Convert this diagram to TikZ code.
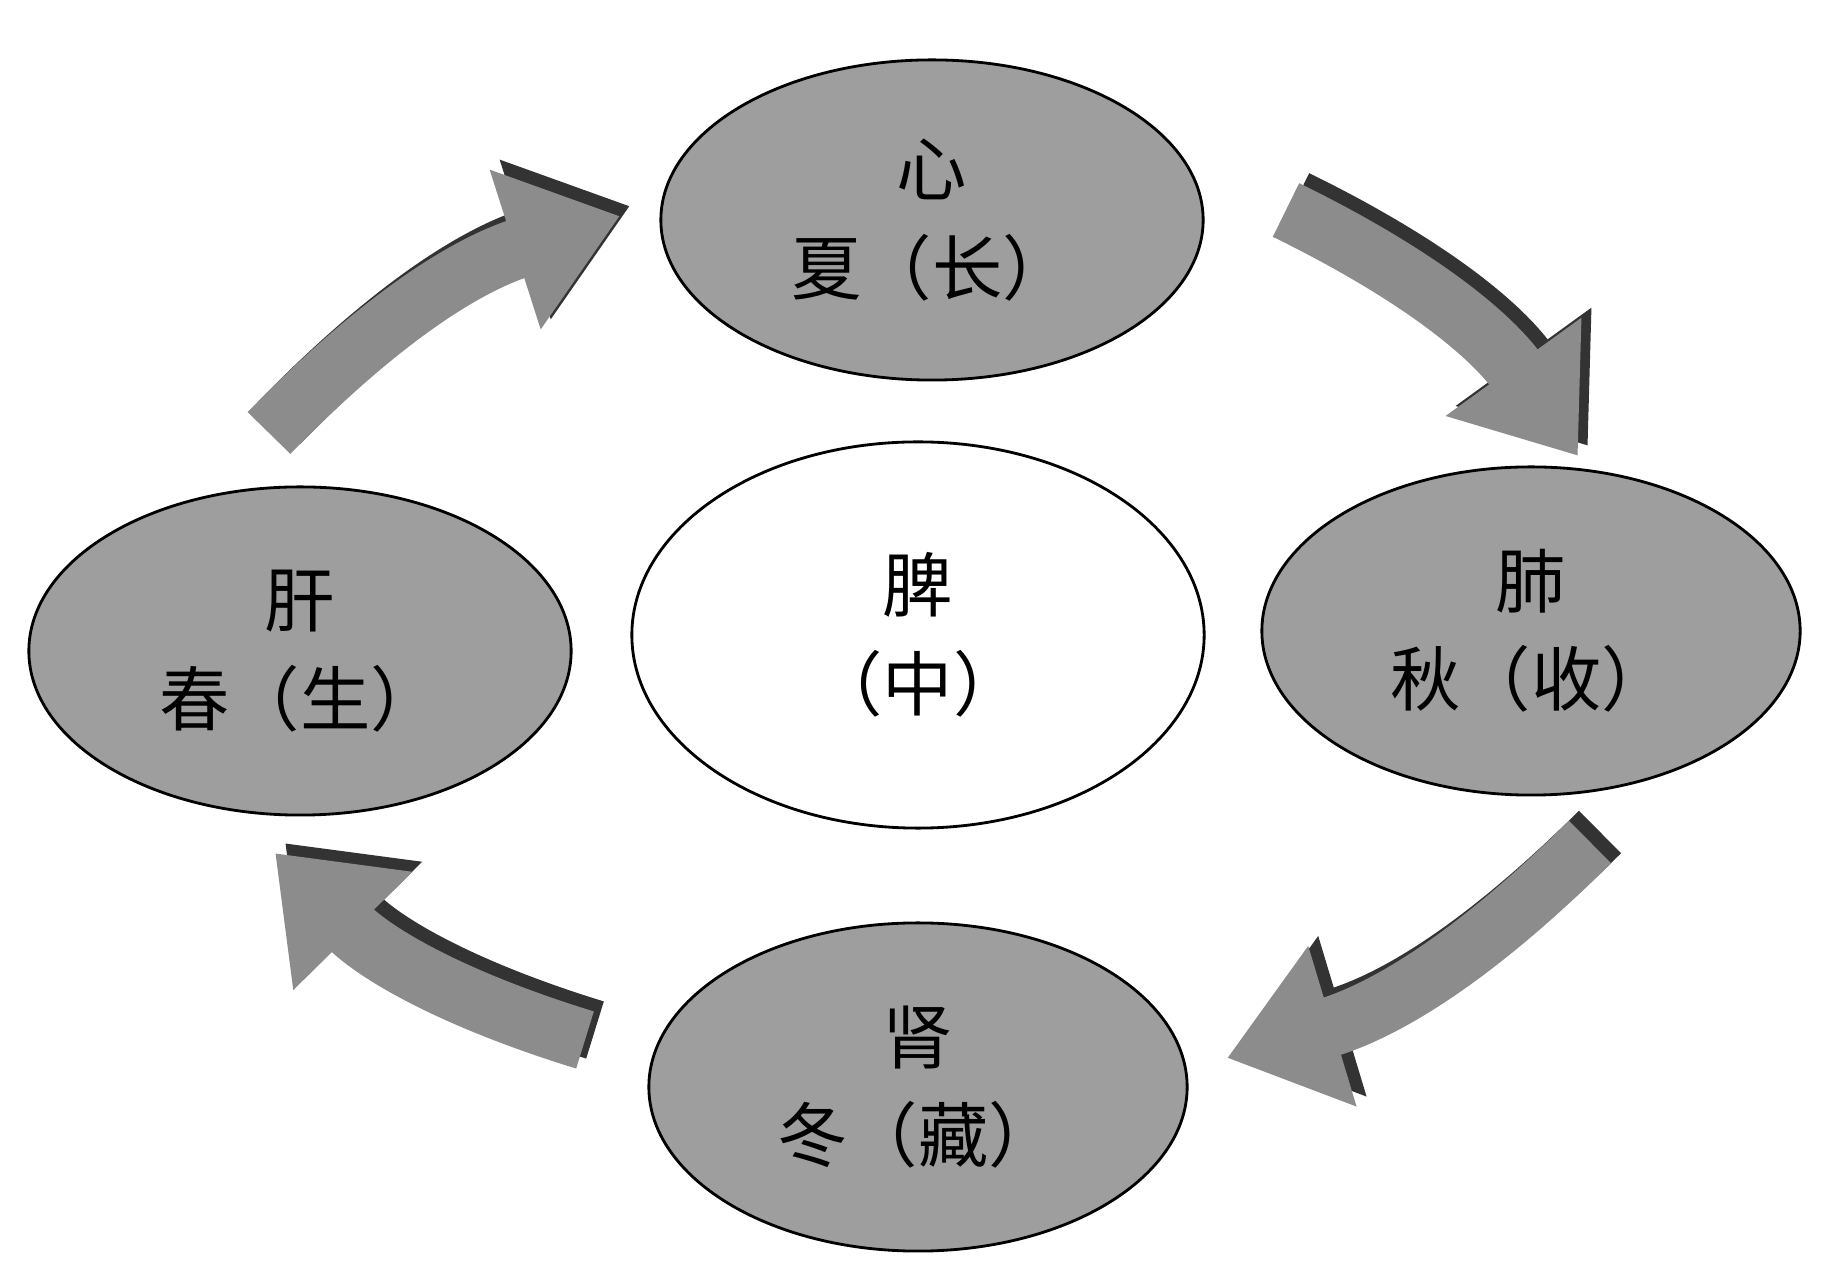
\documentclass[tikz,border=0pt]{standalone}
\usepackage{fontspec}
\newfontfamily\cjk{Noto Sans CJK SC}
\usetikzlibrary{arrows.meta, shapes.geometric}
\begin{document}
\begin{tikzpicture}[x=0.01cm,y=-0.01cm]
    % --- Style Definitions ---
    \tikzset{
        organ/.style={draw=black, thick, ellipse, fill=black!38, font=\cjk\fontsize{20}{28}\selectfont, align=center},
        centre organ/.style={organ, fill=white},
        flow arrow/.style={line width=17pt, draw=black!45, -{Triangle[length=1.1cm, width=1.6cm]}},
        flow side/.style={flow arrow, draw=black!80}
    }
    \useasboundingbox (0,0) rectangle (1833,1280);

    % Ellipses
    \node[organ, minimum width=5.42cm, minimum height=3.2cm] (heart) at (932,220) {心\\夏（长）};
    \node[organ, minimum width=5.42cm, minimum height=3.28cm] (liver) at (300,651) {肝\\春（生）};
    \node[centre organ, minimum width=5.72cm, minimum height=3.86cm] (spleen) at (918,635) {脾\\（中）};
    \node[organ, minimum width=5.38cm, minimum height=3.28cm] (lung) at (1531,631) {肺\\秋（收）};
    \node[organ, minimum width=5.38cm, minimum height=3.28cm] (kidney) at (918,1087) {肾\\冬（藏）};

    % Arrow ends
    \coordinate (a1s) at (269,433); \coordinate (a1e) at (620,216);
    \coordinate (a2s) at (1286,210); \coordinate (a2e) at (1578,456);
    \coordinate (a3s) at (1590,842); \coordinate (a3e) at (1227,1058);
    \coordinate (a4s) at (585,1040); \coordinate (a4e) at (275,853);

    % Arrows (dark side, then face)
    \draw[flow side] ([shift={(10,-10)}]a1s) to[bend left=14] ([shift={(10,-10)}]a1e);
    \draw[flow arrow] (a1s) to[bend left=14] (a1e);
    \draw[flow side] ([shift={(10,-10)}]a2s) to[bend left=14] ([shift={(10,-10)}]a2e);
    \draw[flow arrow] (a2s) to[bend left=14] (a2e);
    \draw[flow side] ([shift={(10,-10)}]a3s) to[bend left=14] ([shift={(10,-10)}]a3e);
    \draw[flow arrow] (a3s) to[bend left=14] (a3e);
    \draw[flow side] ([shift={(10,-10)}]a4s) to[bend left=14] ([shift={(10,-10)}]a4e);
    \draw[flow arrow] (a4s) to[bend left=14] (a4e);
\end{tikzpicture}
\end{document}
